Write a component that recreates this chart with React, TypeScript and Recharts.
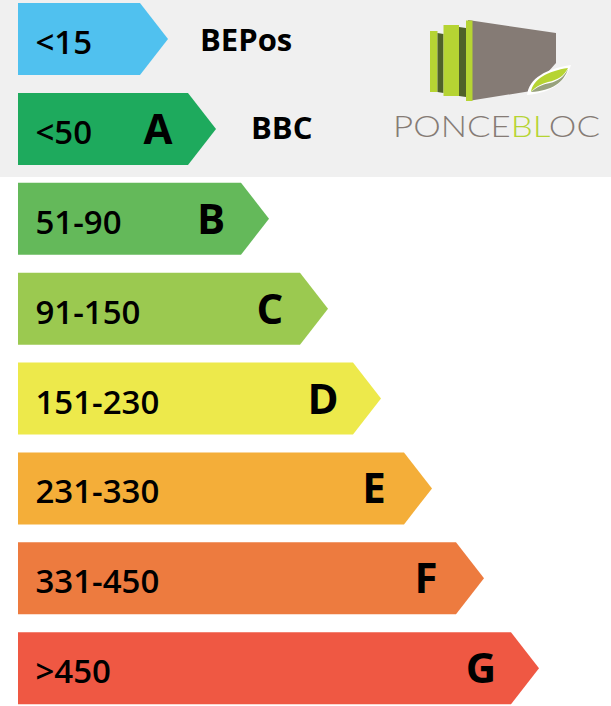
import React from 'react';
import { BarChart, Bar, XAxis, YAxis } from 'recharts';

// energy classes, kWh/m².an
const ranges = ['<15', '<50', '51-90', '91-150', '151-230', '231-330', '331-450', '>450'];
const classes = ['', 'A', 'B', 'C', 'D', 'E', 'F', 'G'];
const notes = ['BEPos', 'BBC', '', '', '', '', '', ''];
const arrowLengths = [150, 198, 251, 310, 363, 414, 466, 521];
const colors = ['#50c1ef', '#1eaa5d', '#64b95a', '#9bc950', '#ede94b', '#f4ae39', '#ed7b3f', '#ef5843'];

const data = ranges.map((range, i) => ({
  range,
  cls: classes[i],
  note: notes[i],
  length: arrowLengths[i],
  color: colors[i],
}));

const FONT = '"Open Sans", sans-serif';

function Arrow(props: any) {
  const { x, y, width, height, payload, index } = props;
  const tip = x + width;
  const mid = y + height / 2;
  const d = `M${x},${y} H${tip - 28} L${tip},${mid} L${tip - 28},${y + height} H${x} Z`;
  return (
    <g>
      <path d={d} fill={payload.color} />
      <text x={x + 17.5} y={mid + 15} fontFamily={FONT} fontWeight={600} fontSize={33} fill="#000">
        {payload.range}
      </text>
      {payload.cls && (
        <text x={tip - 58} y={mid + 15} textAnchor="middle" fontFamily={FONT} fontWeight={700} fontSize={42} fill="#000">
          {payload.cls}
        </text>
      )}
      {payload.note && (
        <text x={tip + (index === 0 ? 32 : 35)} y={mid + (index === 0 ? 12 : 10)} fontFamily={FONT} fontWeight={700} fontSize={31} fill="#000">
          {payload.note}
        </text>
      )}
    </g>
  );
}

function Logo() {
  return (
    <svg width={611} height={706} style={{ position: 'absolute', left: 0, top: 0, pointerEvents: 'none' }}>
      <polygon points="468,20 556,33 556,63 531,91 468,101" fill="#857b75" />
      <rect x={430} y={31} width={7.5} height={61} fill="#b6d433" />
      <polygon points="437.5,33 443.5,34 443.5,93 437.5,92" fill="#4f6129" />
      <rect x={443.5} y={25} width={15.5} height={71} fill="#b6d433" />
      <polygon points="459,27 466,28 466,97 459,96" fill="#4f6129" />
      <rect x={466} y={20.5} width={6.5} height={80.5} fill="#b6d433" />
      <path d="M527,95 C529,78 546,69 571,65 C566,81 552,93 527,95 Z" fill="#fff" />
      <path d="M531,92 C533,79 548,71 568,68 C564,76 558,80 548,82 C542,84 536,86 531,92 Z" fill="#b6d433" />
      <path d="M531,92 C538,86 544,84 550,83 C558,81 564,77 568,69 C564,82 552,91 531,92 Z" fill="#98a27d" />
      <text x={393} y={136.5} fontFamily="Lato, sans-serif" fontWeight={300} fontSize={29} textLength={207} lengthAdjust="spacingAndGlyphs" fill="#857b75">
        PONCE<tspan fill="#b6d433">BL</tspan>OC
      </text>
    </svg>
  );
}

export default function App() {
  return (
    <div
      style={{
        position: 'absolute',
        left: 0,
        top: 0,
        width: 611,
        height: 706,
        overflow: 'hidden',
        background: 'linear-gradient(#f0f0f0 0px, #f0f0f0 177px, #ffffff 177px)',
      }}
    >
      <div style={{ position: 'absolute', left: 0, top: -6 }}>
        <BarChart
          width={611}
          height={719}
          data={data}
          layout="vertical"
          margin={{ top: 0, right: 0, left: 18, bottom: 0 }}
        >
          <XAxis type="number" domain={[0, 593]} hide />
          <YAxis type="category" dataKey="range" hide />
          <Bar dataKey="length" barSize={72} shape={<Arrow />} isAnimationActive={false} />
        </BarChart>
      </div>
      <Logo />
    </div>
  );
}
